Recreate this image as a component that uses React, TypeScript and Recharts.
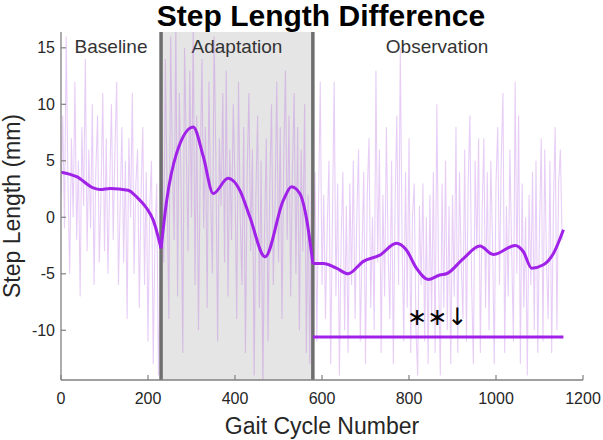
import React from 'react';
import {
  ComposedChart,
  Line,
  XAxis,
  YAxis,
  ReferenceArea,
  ReferenceLine,
  ReferenceDot,
} from 'recharts';

// ---------- data ----------
const STEP = 4;

const baselineStart = 0;
const baselineRaw = [
  2, 9, -1, 16, 3, -5, 7, 0, 12, -2, 5, -7, 8, 1, 14, -3, 6, -1, 10, -6,
  4, 9, -4, 2, 11, -3, 7, -5, 3, 10, -2, 6, 12, -6, 1, 8, -4, 5, -9, 7,
  0, 11, -5, 3, 6, -8, 2, 8, -6, 4, -11, 1, 5, -13, -2, 3, -14, -6,
];

const adaptationStart = 232;
const adaptationRaw = [
  8, -4, 14, 2, -9, 16, 5, -2, 17, -7, 11, 3, -12, 15, 6, -3, 13, 0, 17, -6,
  9, -10, 4, 14, -1, 8, -8, 12, 2, -5, 16, 5, -11, 7, 1, 11, -4, 13, -7, 6,
  -2, 10, 3, -9, 12, 0, -6, 8, -12, 4, 11, -3, 6, -14, 2, 9, -8, 5, -15, -1,
  7, -11, 3, 10, -6, 1, 12, -4, 8, -9, 5, 13, -2, 9, -7, 4, 11, -5, 8, -10,
  6, -3, 10, -12, 2, -13, 4,
];

const observationStart = 580;
const observationRaw = [
  -3, 4, -11, 1, 12, -6, 2, -9, -1, 5, -13, 0, 12, -7, 3, -14, -2, 4, -10, 1,
  -12, 3, -6, 5, -9, 0, 6, -11, -3, 4, -13, 2, 7, -8, 0, -10, 13, -4, 6, -12,
  2, -7, 8, -3, -9, 5, -13, 1, 9, -6, 15, -2, -11, 4, -8, 7, -12, 0, 3, -10,
  -14, 1, -6, 3, -11, 0, -13, 2, -9, 4, -12, 10, -5, -14, 3, -8, 5, -10, 1, -13,
  2, -7, 8, -12, 4, -4, -9, 6, -11, 3, 9, -6, -13, 5, -3, 7, -12, 0, 7, -8,
  4, -10, 5, -2, -13, 3, 8, -6, 5, 11, -12, 1, -7, 6, -3, -11, 12, -5, 9, -13,
  3, -8, 0, -14, 2, -6, 4, -10, 5, -12, -1, 7, -11, 6, -4, -9, 5, -12, 1, 8,
  -10, 3, 6, -2,
];

const baselineSmoothX = [0, 36, 74, 90, 113, 154, 174, 197, 212, 230];
const baselineSmoothY = [4.0, 3.6, 2.6, 2.45, 2.55, 2.4, 1.8, 0.8, -0.25, -2.75];

const adaptationSmoothX = [230, 243, 266, 304, 327, 350, 384, 411, 434, 469, 511, 530, 549, 565, 579];
const adaptationSmoothY = [-2.75, 1.5, 5.7, 8.0, 5.4, 2.1, 3.45, 2.4, 0.05, -3.5, 1.5, 2.7, 2.1, -0.25, -4.1];

const observationSmoothX = [579, 603, 633, 660, 695, 733, 771, 794, 817, 844, 871, 886, 925, 963, 994, 1044, 1063, 1082, 1109, 1132, 1155];
const observationSmoothY = [-4.1, -4.1, -4.5, -5.0, -3.9, -3.35, -2.3, -2.9, -4.5, -5.5, -5.1, -5.0, -3.65, -2.55, -3.3, -2.5, -3.05, -4.5, -4.2, -3.2, -1.1];

const sigX = [579, 1155];
const sigY = [-10.6, -10.6];

const phaseNames = ['Baseline', 'Adaptation', 'Observation'];
const phaseStarts = [0, 230, 579];
const phaseEnds = [230, 579, 1150];

const annotationX = 865;
const annotationY = -9.55;
const annotationText = '\u2217\u2217\u2193';

const xTicks = [0, 200, 400, 600, 800, 1000, 1200];
const yTicks = [-10, -5, 0, 5, 10, 15];
const xDomain = [0, 1200];
const yDomain = [-14.4, 16.4];

const titleText = 'Step Length Difference';
const xLabelText = 'Gait Cycle Number';
const yLabelText = 'Step Length (mm)';

// ---------- build series ----------
const toRaw = (start: number, vals: number[]) => vals.map((v, i) => ({ x: start + i * STEP, v }));
const rawData = [
  ...toRaw(baselineStart, baselineRaw),
  ...toRaw(adaptationStart, adaptationRaw),
  ...toRaw(observationStart, observationRaw),
];
const zip = (xs: number[], ys: number[]) => xs.map((x, i) => ({ x, v: ys[i] }));
const baselineSmooth = zip(baselineSmoothX, baselineSmoothY);
const adaptationSmooth = zip(adaptationSmoothX, adaptationSmoothY);
const observationSmooth = zip(observationSmoothX, observationSmoothY);
const sigData = zip(sigX, sigY);

// ---------- style ----------
const FONT = '"Liberation Sans", Arial, Helvetica, sans-serif';
const AXIS_COLOR = '#808080';
const TEXT_COLOR = '#262626';
const RAW_COLOR = '#b45ee6';
const SMOOTH_COLOR = '#a021e8';
const X_TICK_MARGIN = 13;
const Y_TICK_MARGIN = 6;

const XTick = (props: any) => {
  const { x, y, payload } = props;
  const axisY = y - X_TICK_MARGIN;
  return (
    <g>
      <line x1={x} x2={x} y1={axisY} y2={axisY - 5} stroke={AXIS_COLOR} strokeWidth={1.2} />
      <text x={x} y={y} dy="0.71em" textAnchor="middle" fontSize={16} fill={TEXT_COLOR} fontFamily={FONT}>
        {payload.value}
      </text>
    </g>
  );
};

const YTick = (props: any) => {
  const { x, y, payload } = props;
  const axisX = x + Y_TICK_MARGIN;
  return (
    <g>
      <line x1={axisX} x2={axisX + 5} y1={y} y2={y} stroke={AXIS_COLOR} strokeWidth={1.2} />
      <text x={x} y={y} dy="0.355em" textAnchor="end" fontSize={16} fill={TEXT_COLOR} fontFamily={FONT}>
        {payload.value}
      </text>
    </g>
  );
};

const phaseLabel = (name: string) => (props: any) => {
  const vb = props.viewBox;
  return (
    <text x={vb.x + vb.width / 2} y={vb.y + 21} textAnchor="middle" fontSize={19} fill="#333333" fontFamily={FONT}>
      {name}
    </text>
  );
};

export default function App() {
  return (
    <div style={{ position: 'absolute', left: 0, top: 0, width: 603, height: 440, background: '#fff' }}>
      <ComposedChart width={603} height={440} margin={{ top: 32, right: 20, bottom: 20, left: 16 }}>
        {phaseNames.map((name, i) => (
          <ReferenceArea
            key={name}
            x1={phaseStarts[i]}
            x2={phaseEnds[i]}
            fill={i === 1 ? '#e5e5e5' : '#ffffff'}
            fillOpacity={i === 1 ? 1 : 0}
            stroke="none"
            ifOverflow="hidden"
            label={{ content: phaseLabel(name) } as any}
          />
        ))}
        <XAxis
          dataKey="x"
          type="number"
          domain={xDomain}
          ticks={xTicks}
          height={40}
          tickSize={0}
          tickMargin={X_TICK_MARGIN}
          tick={<XTick />}
          axisLine={{ stroke: AXIS_COLOR, strokeWidth: 1.3 }}
          tickLine={false}
          allowDataOverflow
          label={{
            content: (p: any) => {
              const vb = p.viewBox;
              return (
                <text x={vb.x + vb.width / 2} y={vb.y + 53.5} textAnchor="middle" fontSize={23} fill={TEXT_COLOR} fontFamily={FONT}>
                  {xLabelText}
                </text>
              );
            },
          } as any}
        />
        <YAxis
          type="number"
          domain={yDomain}
          ticks={yTicks}
          width={45}
          tickSize={0}
          tickMargin={Y_TICK_MARGIN}
          tick={<YTick />}
          axisLine={{ stroke: AXIS_COLOR, strokeWidth: 1.3 }}
          tickLine={false}
          allowDataOverflow
          label={{
            content: (p: any) => {
              const vb = p.viewBox;
              const cx = vb.x + 4;
              const cy = vb.y + vb.height / 2;
              return (
                <g>
                  <text
                    x={cx}
                    y={cy}
                    transform={`rotate(-90, ${cx}, ${cy})`}
                    textAnchor="middle"
                    fontSize={23}
                    fill={TEXT_COLOR}
                    fontFamily={FONT}
                  >
                    {yLabelText}
                  </text>
                  <text
                    x={vb.x + vb.width + 260}
                    y={vb.y - 6}
                    textAnchor="middle"
                    fontSize={30}
                    fontWeight="bold"
                    fill="#000"
                    fontFamily={FONT}
                  >
                    {titleText}
                  </text>
                </g>
              );
            },
          } as any}
        />
        <Line
          data={rawData}
          dataKey="v"
          type="linear"
          stroke={RAW_COLOR}
          strokeOpacity={0.3}
          strokeWidth={1.1}
          dot={false}
          activeDot={false}
          isAnimationActive={false}
        />
        {phaseStarts.slice(1).map((b) => (
          <ReferenceLine key={b} x={b} stroke="#6e6e6e" strokeWidth={3.5} />
        ))}
        <Line data={baselineSmooth} dataKey="v" type="monotone" stroke={SMOOTH_COLOR} strokeWidth={3} dot={false} activeDot={false} isAnimationActive={false} />
        <Line data={adaptationSmooth} dataKey="v" type="monotone" stroke={SMOOTH_COLOR} strokeWidth={3} dot={false} activeDot={false} isAnimationActive={false} />
        <Line data={observationSmooth} dataKey="v" type="monotone" stroke={SMOOTH_COLOR} strokeWidth={3} dot={false} activeDot={false} isAnimationActive={false} />
        <Line data={sigData} dataKey="v" type="linear" stroke={SMOOTH_COLOR} strokeWidth={3} dot={false} activeDot={false} isAnimationActive={false} />
        <ReferenceDot
          x={annotationX}
          y={annotationY}
          r={0}
          fill="none"
          stroke="none"
          label={{
            content: (p: any) => {
              const vb = p.viewBox;
              const cx = vb.x + (vb.width || 0) / 2;
              const cy = vb.y + (vb.height || 0) / 2;
              return (
                <text x={cx} y={cy} textAnchor="middle" fontSize={24} fill="#000" fontFamily='"DejaVu Sans", sans-serif'>
                  {annotationText}
                </text>
              );
            },
          } as any}
        />
      </ComposedChart>
    </div>
  );
}
